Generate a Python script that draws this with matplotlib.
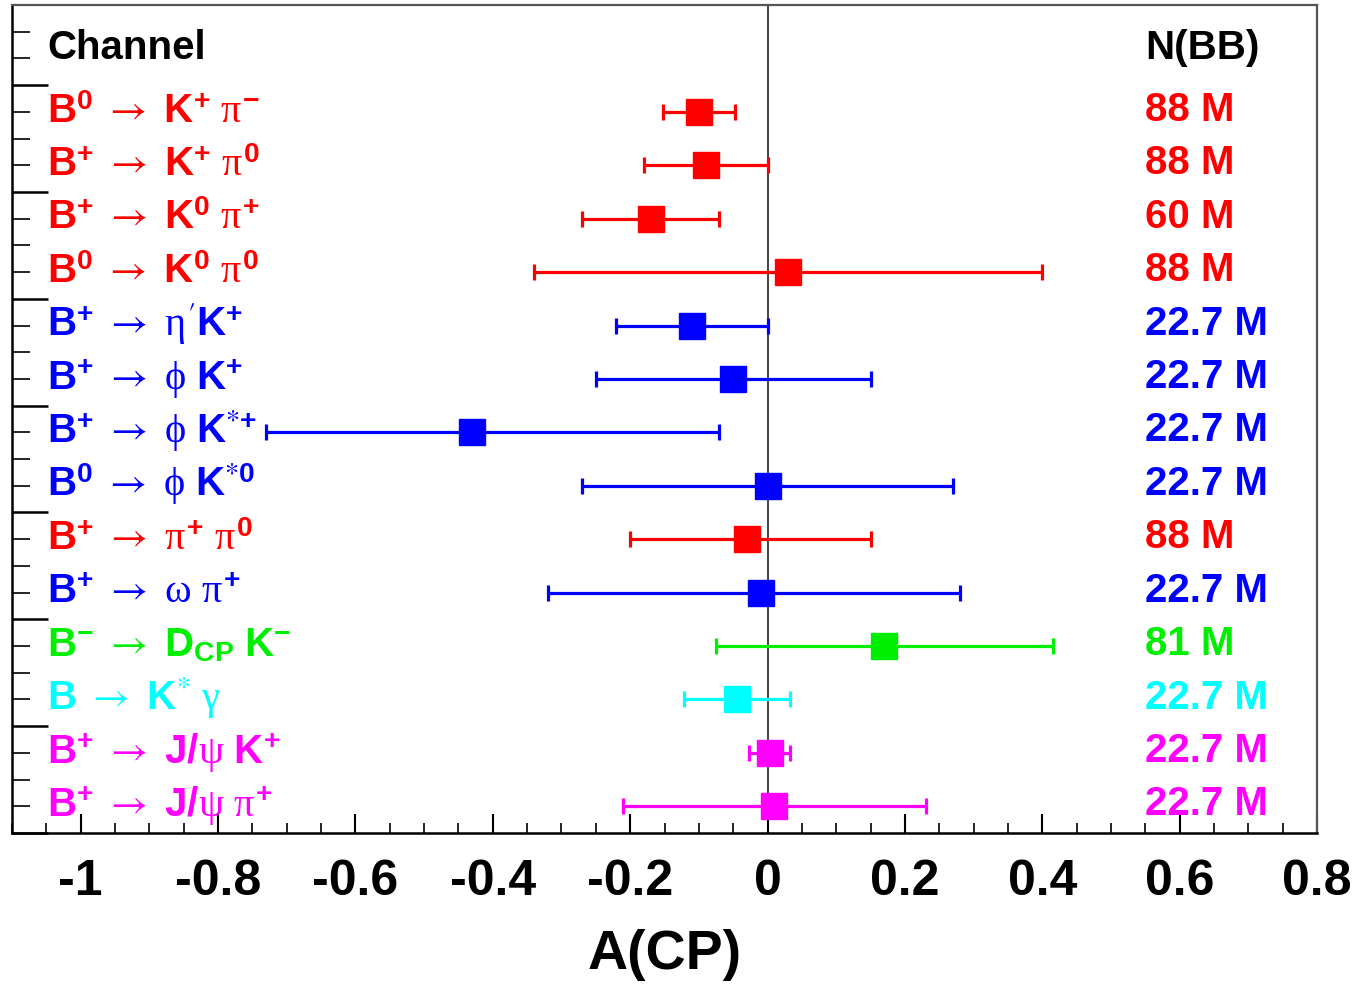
import numpy as np
import matplotlib.pyplot as plt
from matplotlib.ticker import MultipleLocator, FuncFormatter

plt.rcParams['font.family'] = ['Liberation Sans', 'DejaVu Sans']
plt.rcParams['mathtext.fontset'] = 'custom'
plt.rcParams['mathtext.rm'] = 'STIXGeneral'
plt.rcParams['mathtext.it'] = 'Liberation Serif'
plt.rcParams['mathtext.bf'] = 'Liberation Sans:bold'
plt.rcParams['axes.unicode_minus'] = False

# channels, top to bottom
channels = [
    r"$\mathbf{B}^{\mathbf{0}}\ \rightarrow\ \mathbf{K}^{\mathbf{+}}\ \pi^{\mathbf{-}}$",
    r"$\mathbf{B}^{\mathbf{+}}\ \rightarrow\ \mathbf{K}^{\mathbf{+}}\ \pi^{\mathbf{0}}$",
    r"$\mathbf{B}^{\mathbf{+}}\ \rightarrow\ \mathbf{K}^{\mathbf{0}}\ \pi^{\mathbf{+}}$",
    r"$\mathbf{B}^{\mathbf{0}}\ \rightarrow\ \mathbf{K}^{\mathbf{0}}\ \pi^{\mathbf{0}}$",
    r"$\mathbf{B}^{\mathbf{+}}\ \rightarrow\ \eta^{\prime}\mathbf{K}^{\mathbf{+}}$",
    r"$\mathbf{B}^{\mathbf{+}}\ \rightarrow\ \phi\ \mathbf{K}^{\mathbf{+}}$",
    r"$\mathbf{B}^{\mathbf{+}}\ \rightarrow\ \phi\ \mathbf{K}^{*\mathbf{+}}$",
    r"$\mathbf{B}^{\mathbf{0}}\ \rightarrow\ \phi\ \mathbf{K}^{*\mathbf{0}}$",
    r"$\mathbf{B}^{\mathbf{+}}\ \rightarrow\ \pi^{\mathbf{+}}\ \pi^{\mathbf{0}}$",
    r"$\mathbf{B}^{\mathbf{+}}\ \rightarrow\ \omega\ \pi^{\mathbf{+}}$",
    r"$\mathbf{B}^{\mathbf{-}}\ \rightarrow\ \mathbf{D}_{\mathbf{CP}}\ \mathbf{K}^{\mathbf{-}}$",
    r"$\mathbf{B}\ \rightarrow\ \mathbf{K}^{*}\ \gamma$",
    r"$\mathbf{B}^{\mathbf{+}}\ \rightarrow\ \mathbf{J/}\psi\ \mathbf{K}^{\mathbf{+}}$",
    r"$\mathbf{B}^{\mathbf{+}}\ \rightarrow\ \mathbf{J/}\psi\ \pi^{\mathbf{+}}$",
]
acp = [-0.10, -0.09, -0.17, 0.03, -0.11, -0.05, -0.43, 0.00, -0.03, -0.01, 0.17, -0.044, 0.003, 0.01]
err_lo = [0.052, 0.09, 0.10, 0.37, 0.11, 0.20, 0.30, 0.27, 0.17, 0.31, 0.245, 0.077, 0.030, 0.22]
err_hi = [0.052, 0.09, 0.10, 0.37, 0.11, 0.20, 0.36, 0.27, 0.18, 0.29, 0.245, 0.077, 0.030, 0.22]
nbb = ["88 M", "88 M", "60 M", "88 M", "22.7 M", "22.7 M", "22.7 M", "22.7 M",
       "88 M", "22.7 M", "81 M", "22.7 M", "22.7 M", "22.7 M"]
colors = ["#ff0000", "#ff0000", "#ff0000", "#ff0000", "#0000ff", "#0000ff", "#0000ff",
          "#0000ff", "#ff0000", "#0000ff", "#00ee00", "#00ffff", "#ff00ff", "#ff00ff"]

fig = plt.figure(figsize=(13.59, 9.84), dpi=100)
ax = fig.add_axes([12 / 1359, 1 - 833 / 984, 1305 / 1359, 828 / 984])

n = len(channels)
ypos = n - 0.5 - np.arange(n)

ax.axvline(0, color='#333333', lw=1.3, zorder=1)

for i in range(n):
    ax.errorbar(acp[i], ypos[i], xerr=[[err_lo[i]], [err_hi[i]]], fmt='s',
                color=colors[i], ms=18.5, elinewidth=2.3, capsize=5.5, capthick=2.3,
                zorder=3)
    ax.text(-1.049, ypos[i] - 0.2, channels[i], color=colors[i], fontsize=29,
            ha='left', va='baseline')
    ax.text(0.55, ypos[i] - 0.17, nbb[i], color=colors[i], fontsize=29,
            fontweight='bold', ha='left', va='baseline')

ax.text(-1.049, n + 0.48, "Channel", fontsize=29, fontweight='bold', ha='left', va='baseline')
ax.text(0.55, n + 0.48, "N(BB)", fontsize=29, fontweight='bold', ha='left', va='baseline')

ax.set_xlim(-1.1, 0.8)
ax.set_ylim(0, n + 1.5)

ax.xaxis.set_major_locator(MultipleLocator(0.2))
ax.xaxis.set_minor_locator(MultipleLocator(0.05))
ax.xaxis.set_major_formatter(FuncFormatter(lambda v, p: "%g" % round(v, 2)))
ax.yaxis.set_major_locator(MultipleLocator(2))
ax.yaxis.set_minor_locator(MultipleLocator(0.5))
ax.tick_params(axis='x', which='major', direction='in', length=14, width=1.5,
               labelsize=36, pad=19, top=False)
ax.tick_params(axis='x', which='minor', direction='in', length=7, width=1.2, top=False)
ax.tick_params(axis='y', which='major', direction='in', length=26, width=1.8,
               labelleft=False, right=False)
ax.tick_params(axis='y', which='minor', direction='in', length=13, width=1.2, right=False)
for lab in ax.get_xticklabels():
    lab.set_fontweight('bold')

ax.set_xlabel("A(CP)", fontsize=40, fontweight='bold', labelpad=17)

for side in ['left', 'bottom']:
    ax.spines[side].set_color('black')
    ax.spines[side].set_linewidth(1.8)
for side in ['top', 'right']:
    ax.spines[side].set_color('#555555')
    ax.spines[side].set_linewidth(1.6)

fig.savefig("out.png", dpi=100)
